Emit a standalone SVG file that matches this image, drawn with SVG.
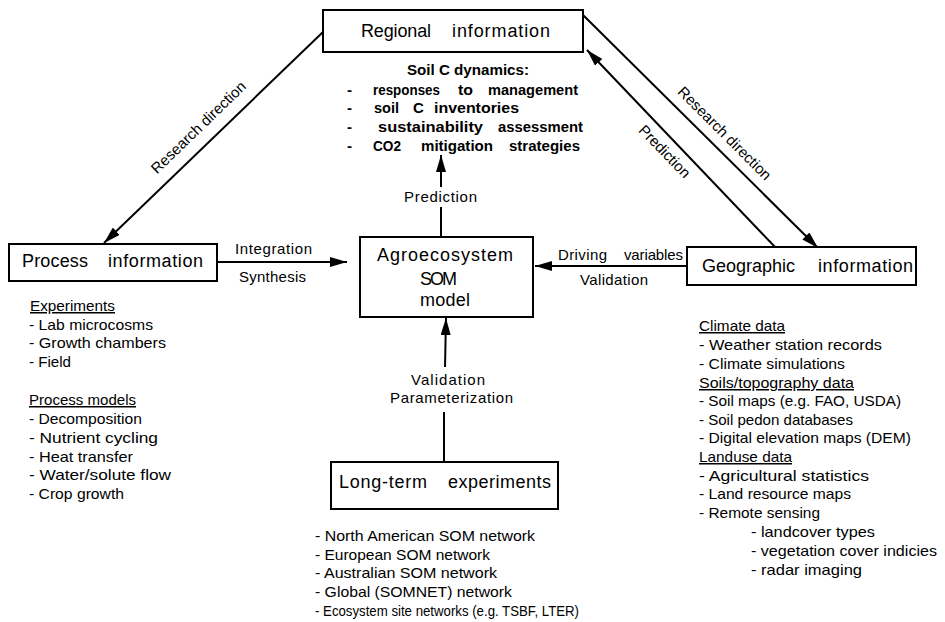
<svg xmlns="http://www.w3.org/2000/svg" width="945" height="622" viewBox="0 0 945 622">
<style>
text{font-family:"Liberation Sans",Arial,sans-serif;fill:#000}
.box{fill:#fff;stroke:#000;stroke-width:2}
.bt{font-size:18px}
.lt{font-size:15px}
.lb{font-size:15px;font-weight:bold}
.ul{text-decoration:underline}
.ln{stroke:#000;stroke-width:2;fill:none}
</style>
<defs>
<marker id="ah" viewBox="0 0 17 10" refX="17" refY="5" markerWidth="17" markerHeight="10" markerUnits="userSpaceOnUse" orient="auto">
<path d="M0,0 L17,5 L0,10 Z" fill="#000"/>
</marker>
</defs>
<rect width="945" height="622" fill="#fff"/>

<g id="connectors">
<line class="ln" x1="323" y1="32" x2="104" y2="243" marker-end="url(#ah)"/>
<line class="ln" x1="583" y1="15" x2="818" y2="248" marker-end="url(#ah)"/>
<line class="ln" x1="775" y1="247" x2="587" y2="50" marker-end="url(#ah)"/>
<line class="ln" x1="217" y1="262" x2="347" y2="262" marker-end="url(#ah)"/>
<line class="ln" x1="687" y1="266" x2="535" y2="266" marker-end="url(#ah)"/>
<line class="ln" x1="441" y1="237" x2="441" y2="207"/>
<line class="ln" x1="441" y1="187" x2="441" y2="155" marker-end="url(#ah)"/>
<line class="ln" x1="444" y1="462" x2="444" y2="412"/>
<line class="ln" x1="445" y1="367" x2="446" y2="318" marker-end="url(#ah)"/>
<text class="lt" transform="translate(202,131) rotate(-44)" text-anchor="middle">Research direction</text>
<text class="lt" transform="translate(721,137) rotate(45)" text-anchor="middle">Research direction</text>
<text class="lt" transform="translate(661,155) rotate(46)" text-anchor="middle">Prediction</text>
<text class="lt" x="404" y="202" textLength="73">Prediction</text>
<text class="lt" x="235" y="254" textLength="77">Integration</text>
<text class="lt" x="239" y="282" textLength="67">Synthesis</text>
<text class="lt" x="558" y="260" textLength="49">Driving</text>
<text class="lt" x="624" y="260" textLength="59">variables</text>
<text class="lt" x="580" y="285" textLength="68">Validation</text>
<text class="lt" x="411" y="385" textLength="74">Validation</text>
<text class="lt" x="390" y="403" textLength="123">Parameterization</text>
</g>

<g id="regional">
<rect class="box" x="323" y="10" width="260" height="42"/>
<text class="bt" x="361" y="37" textLength="70">Regional</text>
<text class="bt" x="452" y="37" textLength="98">information</text>
</g>

<g id="soilc">
<text class="lb" x="407" y="75" textLength="122" lengthAdjust="spacingAndGlyphs">Soil C dynamics:</text>
<text class="lb" x="347" y="95">-</text>
<text class="lb" x="373" y="95" textLength="67" lengthAdjust="spacingAndGlyphs">responses</text>
<text class="lb" x="458" y="95" textLength="15" lengthAdjust="spacingAndGlyphs">to</text>
<text class="lb" x="488" y="95" textLength="90" lengthAdjust="spacingAndGlyphs">management</text>
<text class="lb" x="347" y="113">-</text>
<text class="lb" x="374" y="113" textLength="25" lengthAdjust="spacingAndGlyphs">soil</text>
<text class="lb" x="413" y="113">C</text>
<text class="lb" x="434" y="113" textLength="85" lengthAdjust="spacingAndGlyphs">inventories</text>
<text class="lb" x="347" y="132">-</text>
<text class="lb" x="378" y="132" textLength="105" lengthAdjust="spacingAndGlyphs">sustainability</text>
<text class="lb" x="498" y="132" textLength="85" lengthAdjust="spacingAndGlyphs">assessment</text>
<text class="lb" x="347" y="151">-</text>
<text class="lb" x="373" y="151" textLength="28" lengthAdjust="spacingAndGlyphs">CO2</text>
<text class="lb" x="421" y="151" textLength="72" lengthAdjust="spacingAndGlyphs">mitigation</text>
<text class="lb" x="509" y="151" textLength="71" lengthAdjust="spacingAndGlyphs">strategies</text>
</g>

<g id="process">
<rect class="box" x="9" y="244" width="208" height="37"/>
<text class="bt" x="22" y="267" textLength="66">Process</text>
<text class="bt" x="108" y="267" textLength="95">information</text>
</g>

<g id="agro">
<rect class="box" x="360" y="237" width="173" height="80"/>
<text class="bt" x="377" y="261" textLength="136">Agroecosystem</text>
<text class="bt" x="420" y="285" textLength="37">SOM</text>
<text class="bt" x="420" y="306" textLength="50">model</text>
</g>

<g id="geo">
<rect class="box" x="687" y="247" width="229" height="38"/>
<text class="bt" x="702" y="272" textLength="93">Geographic</text>
<text class="bt" x="818" y="272" textLength="95">information</text>
</g>

<g id="longterm">
<rect class="box" x="331" y="462" width="227" height="47"/>
<text class="bt" x="339" y="488" textLength="88">Long-term</text>
<text class="bt" x="448" y="488" textLength="103">experiments</text>
</g>

<g id="process-list">
<text class="lt ul" x="30" y="311" textLength="85" lengthAdjust="spacingAndGlyphs">Experiments</text>
<text class="lt" x="29" y="330" textLength="124" lengthAdjust="spacingAndGlyphs">- Lab microcosms</text>
<text class="lt" x="29" y="348" textLength="137" lengthAdjust="spacingAndGlyphs">- Growth chambers</text>
<text class="lt" x="29" y="367" textLength="42" lengthAdjust="spacingAndGlyphs">- Field</text>
<text class="lt ul" x="29" y="405" textLength="107" lengthAdjust="spacingAndGlyphs">Process models</text>
<text class="lt" x="29" y="424" textLength="113" lengthAdjust="spacingAndGlyphs">- Decomposition</text>
<text class="lt" x="29" y="443" textLength="129" lengthAdjust="spacingAndGlyphs">- Nutrient cycling</text>
<text class="lt" x="29" y="462" textLength="104" lengthAdjust="spacingAndGlyphs">- Heat transfer</text>
<text class="lt" x="29" y="480" textLength="142" lengthAdjust="spacingAndGlyphs">- Water/solute flow</text>
<text class="lt" x="29" y="499" textLength="95" lengthAdjust="spacingAndGlyphs">- Crop growth</text>
</g>

<g id="longterm-list">
<text class="lt" x="315" y="541" textLength="220" lengthAdjust="spacingAndGlyphs">- North American SOM network</text>
<text class="lt" x="315" y="560" textLength="175" lengthAdjust="spacingAndGlyphs">- European SOM network</text>
<text class="lt" x="315" y="578" textLength="182" lengthAdjust="spacingAndGlyphs">- Australian SOM network</text>
<text class="lt" x="315" y="597" textLength="197" lengthAdjust="spacingAndGlyphs">- Global (SOMNET) network</text>
<text x="315" y="616" font-size="14.5" textLength="264" lengthAdjust="spacingAndGlyphs">- Ecosystem site networks (e.g. TSBF, LTER)</text>
</g>

<g id="geo-list">
<text class="lt ul" x="699" y="331" textLength="86" lengthAdjust="spacingAndGlyphs">Climate data</text>
<text class="lt" x="699" y="350" textLength="183" lengthAdjust="spacingAndGlyphs">- Weather station records</text>
<text class="lt" x="699" y="369" textLength="146" lengthAdjust="spacingAndGlyphs">- Climate simulations</text>
<text class="lt ul" x="699" y="388" textLength="155" lengthAdjust="spacingAndGlyphs">Soils/topography data</text>
<text class="lt" x="699" y="406" textLength="202" lengthAdjust="spacingAndGlyphs">- Soil maps (e.g. FAO, USDA)</text>
<text class="lt" x="699" y="425" textLength="154" lengthAdjust="spacingAndGlyphs">- Soil pedon databases</text>
<text class="lt" x="699" y="443" textLength="212" lengthAdjust="spacingAndGlyphs">- Digital elevation maps (DEM)</text>
<text class="lt ul" x="699" y="462" textLength="93" lengthAdjust="spacingAndGlyphs">Landuse data</text>
<text class="lt" x="699" y="481" textLength="170" lengthAdjust="spacingAndGlyphs">- Agricultural statistics</text>
<text class="lt" x="699" y="499" textLength="152" lengthAdjust="spacingAndGlyphs">- Land resource maps</text>
<text class="lt" x="699" y="518" textLength="121" lengthAdjust="spacingAndGlyphs">- Remote sensing</text>
<text class="lt" x="751" y="537" textLength="124" lengthAdjust="spacingAndGlyphs">- landcover types</text>
<text class="lt" x="751" y="556" textLength="186" lengthAdjust="spacingAndGlyphs">- vegetation cover indicies</text>
<text class="lt" x="751" y="575" textLength="111" lengthAdjust="spacingAndGlyphs">- radar imaging</text>
</g>
</svg>
